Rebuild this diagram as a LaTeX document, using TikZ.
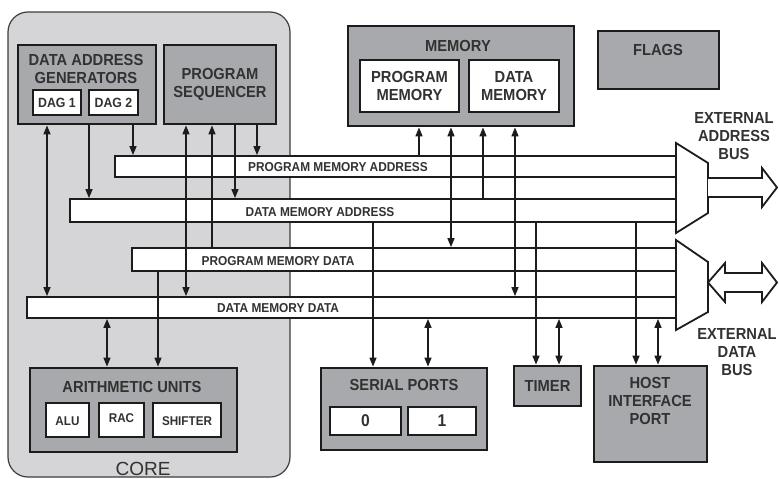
\documentclass[tikz,border=0pt]{standalone}
\usepackage{fontspec}
\setmainfont{Liberation Sans}[FakeStretch=0.92]
\newfontfamily\plainsans{Liberation Sans}
\usetikzlibrary{arrows.meta,fit}
\definecolor{coregray}{RGB}{213,213,215}
\definecolor{boxgray}{RGB}{168,169,172}
\definecolor{ink}{RGB}{28,28,28}
\definecolor{txt}{RGB}{50,50,50}
\tikzset{
  unit/.style={draw=ink, fill=boxgray, line width=2.8pt, inner sep=0pt},
  sub/.style={draw=ink, fill=white, line width=2.4pt, inner sep=0pt},
  bar/.style={draw=ink, fill=white, line width=1.8pt, inner sep=0pt},
  corebox/.style={draw=ink!85, fill=coregray, line width=1.2pt, rounded corners=20pt, inner sep=0pt},
  lbl/.style={text=txt, align=center, inner sep=0pt, font=\fontsize{16}{18}\selectfont\bfseries},
  smalllbl/.style={text=txt, align=center, inner sep=0pt, font=\fontsize{13.4}{15}\selectfont\bfseries},
  tinylbl/.style={text=txt, align=center, inner sep=0pt, font=\fontsize{12.7}{15}\selectfont\bfseries},
  buslbl/.style={text=txt, inner sep=0pt, font=\fontsize{12.9}{15}\selectfont\bfseries},
  conn/.style={draw=ink, line width=1.5pt},
  tip/.tip={Triangle[length=9pt,width=7pt]},
  busarrow/.style={draw=ink, fill=white, line width=1.8pt, line join=miter},
}
\begin{document}
\begin{tikzpicture}[x=1pt,y=-1pt]
\useasboundingbox[fill=white] (0,0) rectangle (779,479);

% core panel
\node[corebox, fit={(8,12)(290,477)}] (core) {};
\node[text=txt, inner sep=0pt, font=\fontsize{19}{22}\selectfont\plainsans] (corel) at (143,469) {CORE};

% buses
\node[bar, fit={(115,156)(676,177)}] (pma) {};
\node[bar, fit={(70,199)(676,222)}] (dma) {};
\node[bar, fit={(132,248)(676,271)}] (pmd) {};
\node[bar, fit={(27,297)(676,318)}] (dmd) {};
\node[buslbl] (pmal) at (338,167) {PROGRAM MEMORY ADDRESS};
\node[buslbl] (dmal) at (320,212) {DATA MEMORY ADDRESS};
\node[buslbl] (pmdl) at (278,261) {PROGRAM MEMORY DATA};
\node[buslbl] (dmdl) at (278,308) {DATA MEMORY DATA};

% muxes
\draw[busarrow] (676,143) -- (708,163) -- (708,213) -- (676,233) -- cycle;
\draw[busarrow] (676,240) -- (708,262) -- (708,312) -- (676,330) -- cycle;
% external bus arrows
\draw[busarrow] (708,178) -- (762,178) -- (762,168) -- (777,187.5) -- (762,207) -- (762,197) -- (708,197);
\draw[busarrow] (708,282.5) -- (725,263) -- (725,273) -- (762,273) -- (762,263) -- (777,282.5) -- (762,302) -- (762,292) -- (725,292) -- (725,302) -- cycle;
\node[lbl] (eab) at (734,136) {EXTERNAL\\ADDRESS\\BUS};
\node[lbl] (edb) at (737,352) {EXTERNAL\\DATA\\BUS};

% units
\node[unit, fit={(18,45)(156,124)}] (dag) {};
\node[lbl] (dagl) at (86,69) {DATA ADDRESS\\GENERATORS};
\node[sub, fit={(33,90)(81,115)}] (dag1) {};
\node[smalllbl] at (dag1) {DAG 1};
\node[sub, fit={(89,90)(138,115)}] (dag2) {};
\node[smalllbl] at (dag2) {DAG 2};

\node[unit, fit={(164,45)(276,124)}] (seq) {};
\node[lbl] (seql) at (seq) {PROGRAM\\SEQUENCER};

\node[unit, fit={(348,26)(574,126)}] (mem) {};
\node[lbl] (meml) at (458,46) {MEMORY};
\node[sub, fit={(360,60)(459,112)}] (pm) {};
\node[lbl] at (pm) {PROGRAM\\MEMORY};
\node[sub, fit={(469,60)(559,112)}] (dm) {};
\node[lbl] at (dm) {DATA\\MEMORY};

\node[unit, fit={(598,31)(719,89)}] (flags) {};
\node[lbl] (flagsl) at (658,50) {FLAGS};

\node[unit, fit={(30,368)(237,452)}] (au) {};
\node[lbl] (aul) at (132,387) {ARITHMETIC UNITS};
\node[sub, fit={(46,403)(89,437)}] (alu) {};
\node[tinylbl] at ([yshift=-1pt]alu.center) {ALU};
\node[sub, fit={(99,403)(144,437)}] (rac) {};
\node[tinylbl] at ([yshift=2pt]rac.center) {RAC};
\node[sub, fit={(153,403)(221,437)}] (shf) {};
\node[tinylbl] at ([yshift=-1pt]shf.center) {SHIFTER};

\node[unit, fit={(321,368)(487,450)}] (sp) {};
\node[lbl] (spl) at (404,385) {SERIAL PORTS};
\node[sub, fit={(330,407)(401,435)}] (sp0) {};
\node[lbl, font=\fontsize{17}{18}\selectfont\bfseries] at (sp0) {0};
\node[sub, fit={(408,407)(476,435)}] (sp1) {};
\node[lbl, font=\fontsize{17}{18}\selectfont\bfseries] at (sp1) {1};

\node[unit, fit={(514,366)(581,406)}] (tim) {};
\node[lbl] at (tim) {TIMER};

\node[unit, fit={(594,366)(707,462)}] (host) {};
\node[lbl] (hostl) at (650,401) {HOST\\INTERFACE\\PORT};

% connectors
\draw[conn, tip-tip] (47,0 |- dag.south) -- (47,0 |- dmd.north);
\draw[conn, -tip] (89,0 |- dag.south) -- (89,0 |- dma.north);
\draw[conn, -tip] (133,0 |- dag.south) -- (133,0 |- pma.north);

\draw[conn, tip-tip] (186,0 |- seq.south) -- (186,0 |- dmd.north);
\draw[conn, -tip] (212,0 |- pmd.north) -- (212,0 |- seq.south);
\draw[conn, -tip] (235,0 |- seq.south) -- (235,0 |- dma.north);
\draw[conn, -tip] (257,0 |- seq.south) -- (257,0 |- pma.north);

\draw[conn, tip-tip] (107,0 |- dmd.south) -- (107,0 |- au.north);
\draw[conn, -tip] (158,0 |- pmd.south) -- (158,0 |- au.north);

\draw[conn, -tip] (419,0 |- pma.north) -- (419,0 |- mem.south);
\draw[conn, tip-tip] (451,0 |- mem.south) -- (451,0 |- pmd.north);
\draw[conn, -tip] (483,0 |- dma.north) -- (483,0 |- mem.south);
\draw[conn, tip-tip] (515,0 |- mem.south) -- (515,0 |- dmd.north);

\draw[conn, -tip] (373,0 |- dma.south) -- (373,0 |- sp.north);
\draw[conn, tip-tip] (428,0 |- dmd.south) -- (428,0 |- sp.north);
\draw[conn, -tip] (536,0 |- dma.south) -- (536,0 |- tim.north);
\draw[conn, tip-tip] (559,0 |- dmd.south) -- (559,0 |- tim.north);
\draw[conn, -tip] (636,0 |- dma.south) -- (636,0 |- host.north);
\draw[conn, tip-tip] (658,0 |- dmd.south) -- (658,0 |- host.north);
\end{tikzpicture}
\end{document}
